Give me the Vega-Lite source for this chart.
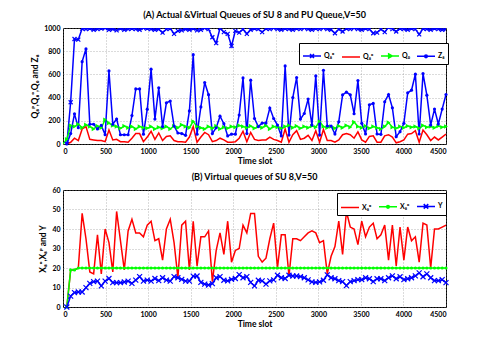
{
"$schema": "https://vega.github.io/schema/vega-lite/v6.json",
"background": "white",
"padding": {"left": 30, "top": 10, "right": 5, "bottom": 5},
"config": {
  "font": "Lato",
  "view": {"stroke": "black", "strokeWidth": 1},
  "axis": {"labelFont": "Lato", "labelFontSize": 7, "labelFontWeight": "bold", "labelColor": "black", "titleFont": "Lato", "titleFontSize": 8.5, "titleFontWeight": "bold", "titleColor": "black", "gridColor": "#888888", "gridDash": [1,2], "gridWidth": 0.6, "domain": false, "ticks": false, "labelPadding": 3},
  "title": {"font": "Lato", "fontSize": 9, "fontWeight": "bold", "color": "black", "offset": 4},
  "concat": {"spacing": 7}
},
"datasets": {
"A": [
{"t":0,"q0":0},
{"t":45,"qp":0,"qo":0,"q0":40,"z":0},
{"t":90,"qp":360,"qo":15,"q0":160,"z":90},
{"t":135,"qp":905,"qo":50,"q0":150,"z":260},
{"t":180,"qp":900,"qo":30,"q0":170,"z":140},
{"t":225,"qp":995,"qo":130,"q0":140,"z":710},
{"t":270,"qp":990,"qo":150,"q0":165,"z":820},
{"t":315,"qp":995,"qo":40,"q0":150,"z":170},
{"t":360,"qp":985,"qo":35,"q0":130,"z":170},
{"t":405,"qp":990,"qo":30,"q0":155,"z":130},
{"t":450,"qp":995,"qo":30,"q0":140,"z":160},
{"t":495,"qp":1000,"qo":20,"q0":210,"z":80},
{"t":540,"qp":985,"qo":120,"q0":180,"z":630},
{"t":585,"qp":990,"qo":35,"q0":160,"z":170},
{"t":630,"qp":980,"qo":40,"q0":150,"z":215},
{"t":675,"qp":995,"qo":20,"q0":135,"z":80},
{"t":720,"qp":985,"qo":20,"q0":155,"z":80},
{"t":765,"qp":990,"qo":15,"q0":140,"z":80},
{"t":810,"qp":995,"qo":50,"q0":150,"z":245},
{"t":855,"qp":990,"qo":90,"q0":130,"z":475},
{"t":900,"qp":985,"qo":90,"q0":150,"z":475},
{"t":945,"qp":1000,"qo":20,"q0":140,"z":85},
{"t":990,"qp":995,"qo":60,"q0":135,"z":300},
{"t":1035,"qp":990,"qo":110,"q0":150,"z":645},
{"t":1080,"qp":985,"qo":40,"q0":130,"z":215},
{"t":1125,"qp":990,"qo":95,"q0":145,"z":485},
{"t":1170,"qp":960,"qo":30,"q0":135,"z":150},
{"t":1215,"qp":990,"qo":65,"q0":150,"z":355},
{"t":1260,"qp":995,"qo":70,"q0":130,"z":370},
{"t":1305,"qp":950,"qo":30,"q0":155,"z":155},
{"t":1350,"qp":975,"qo":20,"q0":140,"z":95},
{"t":1395,"qp":980,"qo":20,"q0":165,"z":90},
{"t":1440,"qp":990,"qo":15,"q0":150,"z":75},
{"t":1485,"qp":985,"qo":60,"q0":140,"z":285},
{"t":1530,"qp":995,"qo":150,"q0":195,"z":770},
{"t":1575,"qp":980,"qo":15,"q0":150,"z":85},
{"t":1620,"qp":985,"qo":60,"q0":140,"z":320},
{"t":1665,"qp":1000,"qo":100,"q0":130,"z":530},
{"t":1710,"qp":990,"qo":80,"q0":150,"z":425},
{"t":1755,"qp":920,"qo":20,"q0":135,"z":90},
{"t":1800,"qp":870,"qo":30,"q0":155,"z":140},
{"t":1845,"qp":1000,"qo":50,"q0":130,"z":240},
{"t":1890,"qp":965,"qo":35,"q0":145,"z":175},
{"t":1935,"qp":950,"qo":15,"q0":135,"z":70},
{"t":1980,"qp":845,"qo":15,"q0":150,"z":85},
{"t":2025,"qp":975,"qo":20,"q0":145,"z":85},
{"t":2070,"qp":960,"qo":50,"q0":160,"z":250},
{"t":2115,"qp":990,"qo":110,"q0":150,"z":570},
{"t":2160,"qp":950,"qo":20,"q0":140,"z":90},
{"t":2205,"qp":985,"qo":100,"q0":155,"z":550},
{"t":2250,"qp":995,"qo":40,"q0":135,"z":220},
{"t":2295,"qp":990,"qo":30,"q0":150,"z":150},
{"t":2340,"qp":965,"qo":35,"q0":140,"z":180},
{"t":2385,"qp":995,"qo":35,"q0":160,"z":180},
{"t":2430,"qp":990,"qo":60,"q0":130,"z":310},
{"t":2475,"qp":1000,"qo":40,"q0":150,"z":220},
{"t":2520,"qp":990,"qo":30,"q0":145,"z":163},
{"t":2565,"qp":985,"qo":15,"q0":135,"z":70},
{"t":2610,"qp":995,"qo":130,"q0":150,"z":673},
{"t":2655,"qp":990,"qo":15,"q0":160,"z":77},
{"t":2700,"qp":985,"qo":80,"q0":140,"z":400},
{"t":2745,"qp":995,"qo":115,"q0":155,"z":573},
{"t":2790,"qp":990,"qo":40,"q0":135,"z":215},
{"t":2835,"qp":1000,"qo":50,"q0":150,"z":263},
{"t":2880,"qp":990,"qo":75,"q0":140,"z":387},
{"t":2925,"qp":985,"qo":30,"q0":155,"z":163},
{"t":2970,"qp":995,"qo":115,"q0":145,"z":587},
{"t":3015,"qp":990,"qo":15,"q0":195,"z":77},
{"t":3060,"qp":1000,"qo":125,"q0":150,"z":636},
{"t":3105,"qp":990,"qo":30,"q0":140,"z":155},
{"t":3150,"qp":985,"qo":30,"q0":150,"z":155},
{"t":3195,"qp":955,"qo":15,"q0":135,"z":86},
{"t":3240,"qp":990,"qo":35,"q0":155,"z":192},
{"t":3285,"qp":970,"qo":80,"q0":140,"z":424},
{"t":3330,"qp":995,"qo":90,"q0":160,"z":447},
{"t":3375,"qp":990,"qo":80,"q0":145,"z":424},
{"t":3420,"qp":1000,"qo":50,"q0":190,"z":261},
{"t":3465,"qp":990,"qo":105,"q0":150,"z":547},
{"t":3510,"qp":985,"qo":35,"q0":140,"z":178},
{"t":3555,"qp":995,"qo":15,"q0":155,"z":86},
{"t":3600,"qp":990,"qo":65,"q0":135,"z":338},
{"t":3645,"qp":955,"qo":70,"q0":150,"z":350},
{"t":3690,"qp":960,"qo":15,"q0":140,"z":86},
{"t":3735,"qp":990,"qo":15,"q0":130,"z":83},
{"t":3780,"qp":965,"qo":70,"q0":150,"z":364},
{"t":3825,"qp":1005,"qo":80,"q0":185,"z":427},
{"t":3870,"qp":990,"qo":60,"q0":145,"z":312},
{"t":3915,"qp":970,"qo":10,"q0":135,"z":63},
{"t":3960,"qp":995,"qo":20,"q0":150,"z":106},
{"t":4005,"qp":990,"qo":35,"q0":140,"z":178},
{"t":4050,"qp":985,"qo":85,"q0":155,"z":441},
{"t":4095,"qp":995,"qo":90,"q0":145,"z":464},
{"t":4140,"qp":990,"qo":115,"q0":150,"z":602},
{"t":4185,"qp":945,"qo":15,"q0":135,"z":86},
{"t":4230,"qp":995,"qo":120,"q0":160,"z":607},
{"t":4275,"qp":990,"qo":80,"q0":145,"z":421},
{"t":4320,"qp":985,"qo":30,"q0":150,"z":163},
{"t":4365,"qp":995,"qo":60,"q0":140,"z":301},
{"t":4410,"qp":990,"qo":35,"q0":155,"z":172},
{"t":4455,"qp":985,"qo":60,"q0":145,"z":301},
{"t":4500,"qp":990,"qo":85,"q0":150,"z":427}
],
"B": [
{"t":45,"xp":0,"xo":0,"y":0},
{"t":90,"xp":19,"xo":19,"y":5.6},
{"t":135,"xp":19,"xo":19,"y":7.4},
{"t":180,"xp":20,"xo":20,"y":7.7},
{"t":225,"xp":48,"xo":20,"y":7.7},
{"t":270,"xp":35,"xo":20,"y":9.9},
{"t":315,"xp":18,"xo":20,"y":12.1},
{"t":360,"xp":17,"xo":20,"y":13},
{"t":405,"xp":37,"xo":20,"y":13.3},
{"t":450,"xp":17,"xo":20,"y":10.8},
{"t":495,"xp":40,"xo":20,"y":13.3},
{"t":540,"xp":33,"xo":20,"y":14.6},
{"t":585,"xp":18,"xo":20,"y":12.5},
{"t":630,"xp":49,"xo":20,"y":12.5},
{"t":675,"xp":34,"xo":20,"y":12.5},
{"t":720,"xp":19,"xo":20,"y":12.8},
{"t":765,"xp":39,"xo":20,"y":13.3},
{"t":810,"xp":45,"xo":20,"y":12.1},
{"t":855,"xp":38,"xo":20,"y":13.8},
{"t":900,"xp":38,"xo":20,"y":15.6},
{"t":945,"xp":36,"xo":20,"y":13.3},
{"t":990,"xp":42,"xo":20,"y":13.8},
{"t":1035,"xp":44,"xo":20,"y":13.3},
{"t":1080,"xp":34,"xo":20,"y":14.6},
{"t":1125,"xp":35,"xo":20,"y":13.5},
{"t":1170,"xp":24,"xo":20,"y":15},
{"t":1215,"xp":40,"xo":20,"y":13.8},
{"t":1260,"xp":45,"xo":20,"y":13.3},
{"t":1305,"xp":33,"xo":20,"y":15.6},
{"t":1350,"xp":15,"xo":20,"y":15},
{"t":1395,"xp":42,"xo":20,"y":14.2},
{"t":1440,"xp":44,"xo":20,"y":13.3},
{"t":1485,"xp":19,"xo":20,"y":13.3},
{"t":1530,"xp":44,"xo":20,"y":15.8},
{"t":1575,"xp":21,"xo":20,"y":15.9},
{"t":1620,"xp":36,"xo":20,"y":12.6},
{"t":1665,"xp":36,"xo":20,"y":11.7},
{"t":1710,"xp":39,"xo":20,"y":11.3},
{"t":1755,"xp":13,"xo":20,"y":12},
{"t":1800,"xp":29,"xo":20,"y":15},
{"t":1845,"xp":38,"xo":20,"y":15.6},
{"t":1890,"xp":27,"xo":20,"y":13.7},
{"t":1935,"xp":44,"xo":20,"y":13.4},
{"t":1980,"xp":23,"xo":20,"y":14.2},
{"t":2025,"xp":29,"xo":20,"y":14.6},
{"t":2070,"xp":30,"xo":20,"y":16.6},
{"t":2115,"xp":42,"xo":20,"y":15},
{"t":2160,"xp":38,"xo":20,"y":15.6},
{"t":2205,"xp":48,"xo":20,"y":12.6},
{"t":2250,"xp":48,"xo":20,"y":10.8},
{"t":2295,"xp":26,"xo":20,"y":13.7},
{"t":2340,"xp":23,"xo":20,"y":13.4},
{"t":2385,"xp":25,"xo":20,"y":11.7},
{"t":2430,"xp":35,"xo":20,"y":13.4},
{"t":2475,"xp":43,"xo":20,"y":13.9},
{"t":2520,"xp":20,"xo":20,"y":16.3},
{"t":2565,"xp":37,"xo":20,"y":15},
{"t":2610,"xp":37,"xo":20,"y":14.6},
{"t":2655,"xp":16,"xo":20,"y":16.3},
{"t":2700,"xp":35,"xo":20,"y":15.9},
{"t":2745,"xp":35,"xo":20,"y":15.9},
{"t":2790,"xp":34,"xo":20,"y":15.6},
{"t":2835,"xp":36,"xo":20,"y":15},
{"t":2880,"xp":38,"xo":20,"y":13.9},
{"t":2925,"xp":39,"xo":20,"y":12.9},
{"t":2970,"xp":38,"xo":20,"y":12.6},
{"t":3015,"xp":33,"xo":20,"y":12.9},
{"t":3060,"xp":34,"xo":20,"y":13.7},
{"t":3105,"xp":17,"xo":20,"y":16.5},
{"t":3150,"xp":26,"xo":20,"y":15},
{"t":3195,"xp":31,"xo":20,"y":14.5},
{"t":3240,"xp":44,"xo":20,"y":13.5},
{"t":3285,"xp":27,"xo":20,"y":13},
{"t":3330,"xp":49,"xo":20,"y":11},
{"t":3375,"xp":41,"xo":20,"y":13},
{"t":3420,"xp":40,"xo":20,"y":13.5},
{"t":3465,"xp":32,"xo":20,"y":14},
{"t":3510,"xp":44,"xo":20,"y":14},
{"t":3555,"xp":36,"xo":20,"y":15},
{"t":3600,"xp":41,"xo":20,"y":14.5},
{"t":3645,"xp":43,"xo":20,"y":13},
{"t":3690,"xp":35,"xo":20,"y":14.5},
{"t":3735,"xp":37,"xo":20,"y":14.5},
{"t":3780,"xp":42,"xo":20,"y":13.5},
{"t":3825,"xp":24,"xo":20,"y":15},
{"t":3870,"xp":42,"xo":20,"y":16},
{"t":3915,"xp":21,"xo":20,"y":14.5},
{"t":3960,"xp":41,"xo":20,"y":15.5},
{"t":4005,"xp":24,"xo":20,"y":14},
{"t":4050,"xp":41,"xo":20,"y":14.5},
{"t":4095,"xp":34,"xo":20,"y":15},
{"t":4140,"xp":36,"xo":20,"y":16},
{"t":4185,"xp":23,"xo":20,"y":17.5},
{"t":4230,"xp":43,"xo":20,"y":15.5},
{"t":4275,"xp":42,"xo":20,"y":17},
{"t":4320,"xp":20,"xo":20,"y":15},
{"t":4365,"xp":40,"xo":20,"y":13.5},
{"t":4410,"xp":40,"xo":20,"y":13.5},
{"t":4455,"xp":41,"xo":20,"y":14},
{"t":4500,"xp":42,"xo":20,"y":12.5}
]
},
"vconcat": [
{
  "width": 383, "height": 116,
  "title": "(A) Actual &Virtual Queues of SU 8 and PU Queue,V=50",
  "data": {"name": "A"},
  "transform": [{"fold": ["qp","qo","q0","z"], "as": ["key","val"]}],
  "encoding": {
    "x": {"field": "t", "type": "quantitative", "scale": {"domain": [0,4500], "nice": false}, "axis": {"title": "Time slot", "values": [0,500,1000,1500,2000,2500,3000,3500,4000,4500], "format": "d", "titlePadding": 2}},
    "y": {"field": "val", "type": "quantitative", "scale": {"domain": [0,1000], "nice": false}, "axis": {"title": "Q₈ᵖ,Q₈ᵒ,Q₀ and Z₈", "values": [0,200,400,600,800,1000], "format": "d", "titlePadding": 4}}
  },
  "layer": [
    {"mark": {"type": "line", "strokeWidth": 1.5, "clip": true},
     "encoding": {
       "color": {"field": "key", "type": "nominal", "sort": ["qp","qo","q0","z"],
         "scale": {"domain": ["qp","qo","q0","z"], "range": ["#0000ff","#ff0000","#00ff00","#0000ff"]},
         "legend": {"orient": "none", "legendX": 236, "legendY": 15, "direction": "horizontal", "title": null,
           "strokeColor": "black", "fillColor": "white", "padding": 3, "symbolSize": 324, "symbolStrokeWidth": 1.5,
           "labelFontSize": 7, "labelFont": "Lato", "labelFontWeight": "bold", "labelOffset": 2, "columnPadding": 4,
           "labelExpr": "datum.value == 'qp' ? 'Q₈ᵖ' : datum.value == 'qo' ? 'Q₈ᵒ' : datum.value == 'q0' ? 'Q₀' : 'Z₈'",
           "encode": {"symbols": {"update": {
             "shape": {"signal": "datum.value == 'qp' ? 'M-1,0L1,0M-0.22,-0.22L0.22,0.22M-0.22,0.22L0.22,-0.22' : datum.value == 'q0' ? 'M-1,0L1,0M-0.15,-0.22L0.25,0L-0.15,0.22Z' : datum.value == 'z' ? 'M-1,0L1,0M-0.15,0A0.15,0.15,0,1,0,0.15,0A0.15,0.15,0,1,0,-0.15,0Z' : 'M-1,0L1,0'"},
             "fill": {"signal": "datum.value == 'qo' ? '#ff0000' : datum.value == 'q0' ? '#00ff00' : '#0000ff'"}
           }}}
         }}
     }},
    {"transform": [{"filter": "datum.key == 'qp'"}],
     "mark": {"type": "point", "shape": "M-1,-1L1,1M-1,1L1,-1", "size": 16, "color": "#0000ff", "strokeWidth": 1.2, "filled": false, "opacity": 1, "clip": true}},
    {"transform": [{"filter": "datum.key == 'q0' && datum.t > 0"}],
     "mark": {"type": "point", "shape": "triangle-right", "size": 20, "color": "#00ff00", "filled": true, "opacity": 1}},
    {"transform": [{"filter": "datum.key == 'z'"}],
     "mark": {"type": "point", "shape": "circle", "size": 10, "color": "#0000ff", "filled": true, "opacity": 1}}
  ]
},
{
  "width": 383, "height": 117,
  "title": "(B) Virtual queues of SU 8,V=50",
  "data": {"name": "B"},
  "transform": [{"fold": ["xp","xo","y"], "as": ["key","val"]}],
  "encoding": {
    "x": {"field": "t", "type": "quantitative", "scale": {"domain": [0,4500], "nice": false}, "axis": {"title": "Time slot", "values": [0,500,1000,1500,2000,2500,3000,3500,4000,4500], "format": "d", "titlePadding": 2}},
    "y": {"field": "val", "type": "quantitative", "scale": {"domain": [0,60], "nice": false}, "axis": {"title": "X₈ᵒ,X₈ᵖ and Y", "values": [0,10,20,30,40,50,60], "format": "d", "titlePadding": 4}}
  },
  "layer": [
    {"mark": {"type": "line", "strokeWidth": 1.5, "clip": true},
     "encoding": {
       "color": {"field": "key", "type": "nominal", "sort": ["xp","xo","y"],
         "scale": {"domain": ["xp","xo","y"], "range": ["#ff0000","#00ff00","#0000ff"]},
         "legend": {"orient": "none", "legendX": 274, "legendY": 3, "direction": "horizontal", "title": null,
           "strokeColor": "black", "fillColor": "white", "padding": 3, "symbolSize": 324, "symbolStrokeWidth": 1.5,
           "labelFontSize": 7, "labelFont": "Lato", "labelFontWeight": "bold", "labelOffset": 2, "columnPadding": 4,
           "labelExpr": "datum.value == 'xp' ? 'X₈ᵖ' : datum.value == 'xo' ? 'X₈ᵒ' : 'Y'",
           "encode": {"symbols": {"update": {
             "shape": {"signal": "datum.value == 'y' ? 'M-1,0L1,0M-0.25,-0.25L0.25,0.25M-0.25,0.25L0.25,-0.25' : datum.value == 'xo' ? 'M-1,0L1,0M-0.15,0A0.15,0.15,0,1,0,0.15,0A0.15,0.15,0,1,0,-0.15,0Z' : 'M-1,0L1,0'"},
             "fill": {"signal": "datum.value == 'xp' ? '#ff0000' : datum.value == 'xo' ? '#00ff00' : '#0000ff'"}
           }}}
         }}
     }},
    {"transform": [{"filter": "datum.key == 'xo'"}],
     "mark": {"type": "point", "shape": "circle", "size": 10, "color": "#00ff00", "filled": true, "opacity": 1}},
    {"transform": [{"filter": "datum.key == 'y'"}],
     "mark": {"type": "point", "shape": "M-1,-1L1,1M-1,1L1,-1", "size": 25, "color": "#0000ff", "strokeWidth": 1.2, "filled": false, "opacity": 1}}
  ]
}
],
"resolve": {"scale": {"color": "independent"}, "legend": {"color": "independent"}}
}
